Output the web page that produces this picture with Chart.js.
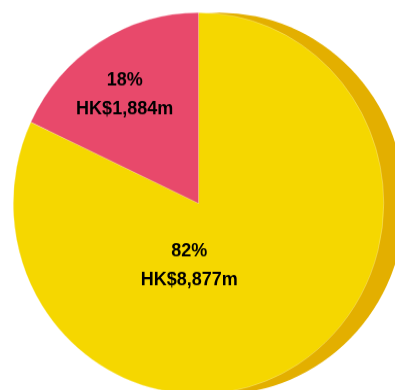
<!DOCTYPE html>
<html>
<head>
<meta charset="utf-8">
<script src="https://cdn.jsdelivr.net/npm/chart.js@4/dist/chart.umd.min.js"></script>
<style>
    html, body { margin: 0; padding: 0; background: #fff; overflow: hidden; }
    #wrap { width: 395px; height: 390px; transform: scaleY(1.0296); transform-origin: 0 0; }
</style>
</head>
<body>
<div id="wrap"><canvas id="pieChart" width="395" height="390"></canvas></div>
<script>
// Data
const categories = ['Segment A', 'Segment B'];
const shares = [82, 18];              // percent of total, drives the slices
const amounts = [8877, 1884];         // HK$ million
const sliceColors = ['#F5D700', '#E8496B'];
const shadowColor = '#E3AF00';

// where each label block sits: angle (deg, 0 = 3 o'clock) and fraction of radius
const labelPlacement = [
    { angle: 98.6, frac: 0.331 },
    { angle: -125.0, frac: 0.695 }
];

// Darker disc behind the pie, offset to the right
const shadowPlugin = {
    id: 'pieShadow',
    beforeDatasetsDraw(chart) {
        const arc = chart.getDatasetMeta(0).data[0];
        const ctx = chart.ctx;
        ctx.save();
        ctx.beginPath();
        ctx.arc(arc.x + 21, arc.y, arc.outerRadius, 0, Math.PI * 2);
        ctx.fillStyle = shadowColor;
        ctx.fill();
        ctx.restore();
    }
};

// Percent + amount labels inside the slices
const labelPlugin = {
    id: 'sliceLabels',
    afterDatasetsDraw(chart) {
        const ctx = chart.ctx;
        const arcs = chart.getDatasetMeta(0).data;
        ctx.save();
        ctx.fillStyle = '#000';
        ctx.font = 'bold 18px "Liberation Sans", Arial, sans-serif';
        ctx.textAlign = 'center';
        ctx.textBaseline = 'middle';
        arcs.forEach((arc, i) => {
            const p = labelPlacement[i];
            const a = p.angle * Math.PI / 180;
            const x = arc.x + Math.cos(a) * arc.outerRadius * p.frac;
            const y = arc.y + Math.sin(a) * arc.outerRadius * p.frac;
            ctx.fillText(shares[i] + '%', x, y - 14);
            ctx.fillText('HK$' + amounts[i].toLocaleString('en-US') + 'm', x, y + 14);
        });
        ctx.restore();
    }
};

const ctx = document.getElementById('pieChart').getContext('2d');
new Chart(ctx, {
    type: 'pie',
    data: {
        labels: categories,
        datasets: [{
            data: shares,
            backgroundColor: sliceColors,
            borderColor: 'rgba(255,255,255,0.5)',
            borderWidth: 0.5
        }]
    },
    options: {
        responsive: false,
        animation: false,
        devicePixelRatio: 1,
        layout: { padding: { left: 13, right: 11, top: 12, bottom: 7 } },
        plugins: {
            legend: { display: false },
            tooltip: { enabled: false }
        }
    },
    plugins: [shadowPlugin, labelPlugin]
});
</script>
</body>
</html>
